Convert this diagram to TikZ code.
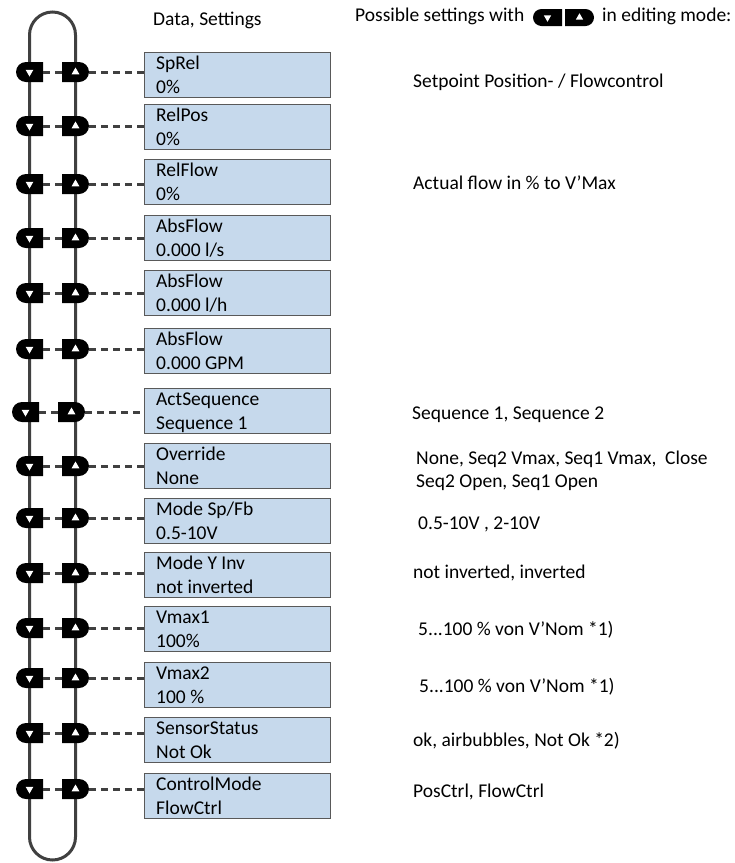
\documentclass[tikz,border=0pt]{standalone}
\usepackage{fontspec}
\setmainfont{Carlito}
\usetikzlibrary{shapes.misc,shapes.geometric,calc}
\definecolor{linegray}{HTML}{404040}
\definecolor{boxfill}{RGB}{198,217,236}
\definecolor{boxline}{HTML}{595959}
\newcommand{\drow}[6]{%
  \node[lbtn] (lb#1) at (29.5+#4,#2) {};
  \node[tridown] (ld#1) at (lb#1.center) {};
  \node[rbtn] (rb#1) at (75.5+#4,#2) {};
  \node[triup] (ru#1) at (rb#1.center) {};
  \node[dbox] (bx#1) at (144,#3) {};
  \node[txt] (ta#1) at ($(bx#1.north west)+(12,17)$) {#5};
  \node[txt] (tb#1) at ($(bx#1.north west)+(12,41)$) {#6};
  \draw[dashline] (lb#1.east) -- (rb#1.west);
  \draw[dashline] (rb#1.east) -- (rb#1.east -| bx#1.west);
}
\begin{document}
\begin{tikzpicture}[x=1pt,y=-1pt,
  font=\fontsize{19.5}{24}\selectfont,
  lbtn/.style={rounded rectangle, rounded rectangle right arc=none, fill=black, minimum width=27pt, minimum height=20pt, inner sep=0pt},
  rbtn/.style={rounded rectangle, rounded rectangle left arc=none, fill=black, minimum width=27pt, minimum height=20pt, inner sep=0pt},
  tridown/.style={regular polygon, regular polygon sides=3, shape border rotate=180, fill=white, inner sep=0pt, minimum size=9pt},
  triup/.style={regular polygon, regular polygon sides=3, fill=white, inner sep=0pt, minimum size=9pt},
  dbox/.style={draw=boxline, fill=boxfill, line width=1.3pt, minimum width=186pt, minimum height=45pt, inner sep=0pt, anchor=north west},
  txt/.style={anchor=base west, inner sep=0pt},
  dashline/.style={draw=linegray, line width=3pt, dash pattern=on 7pt off 5pt},
  loopline/.style={draw=linegray, line width=3pt},
]
\useasboundingbox (0,0) rectangle (735,863);
\coordinate (lt) at (29.5,35);
\coordinate (rb) at (75.5,837);
\draw[loopline] (29.5,837) -- (lt) arc[start angle=180, end angle=360, radius=23] -- (rb) arc[start angle=0, end angle=180, radius=23];

\node[txt] (title) at (153,25) {Data, Settings};
\node[txt] (hdr) at (355,21) {Possible settings with};
\node[lbtn, minimum width=29pt, minimum height=17pt] (hl) at (547.5,17.5) {};
\node[tridown, minimum size=8.5pt] (hlt) at (hl.center) {};
\node[rbtn, minimum width=29pt, minimum height=17pt] (hr) at (579.5,17.5) {};
\node[triup, minimum size=8.5pt] (hrt) at (hr.center) {};
\node[txt] (hdr2) at (602,21) {in editing mode:};

\drow{1}{72}{52}{0}{SpRel}{0\%}
\drow{2}{126}{104}{0}{RelPos}{0\%}
\drow{3}{184}{159}{0}{RelFlow}{0\%}
\drow{4}{238}{215}{0}{AbsFlow}{0.000 l/s}
\drow{5}{293}{270}{0}{AbsFlow}{0.000 l/h}
\drow{6}{349}{328}{0}{AbsFlow}{0.000 GPM}
\drow{7}{412}{388}{-4}{ActSequence}{Sequence 1}
\drow{8}{466}{443}{0}{Override}{None}
\drow{9}{518}{498}{0}{Mode Sp/Fb}{0.5-10V}
\drow{10}{573}{552}{0}{Mode Y Inv}{not inverted}
\drow{11}{628}{606}{0}{Vmax1}{100\%}
\drow{12}{678}{662}{0}{Vmax2}{100 \%}
\drow{13}{733}{717}{0}{SensorStatus}{Not Ok}
\drow{14}{789}{773}{0}{ControlMode}{FlowCtrl}

\node[txt] (s1) at (413,87) {Setpoint Position- / Flowcontrol};
\node[txt] (s3) at (413,189) {Actual flow in \% to V’Max};
\node[txt] (s7) at (412,419) {Sequence 1, Sequence 2};
\node[txt] (s8a) at (416,464) {None, Seq2 Vmax, Seq1 Vmax, \ Close};
\node[txt] (s8b) at (416,487) {Seq2 Open, Seq1 Open};
\node[txt] (s9) at (418,529) {0.5-10V , 2-10V};
\node[txt] (s10) at (413,578) {not inverted, inverted};
\node[txt] (s11) at (418,635) {5...100 \% von V’Nom *1)};
\node[txt] (s12) at (419,692) {5...100 \% von V’Nom *1)};
\node[txt] (s13) at (413,746) {ok, airbubbles, Not Ok *2)};
\node[txt] (s14) at (413,797) {PosCtrl, FlowCtrl};
\end{tikzpicture}
\end{document}
